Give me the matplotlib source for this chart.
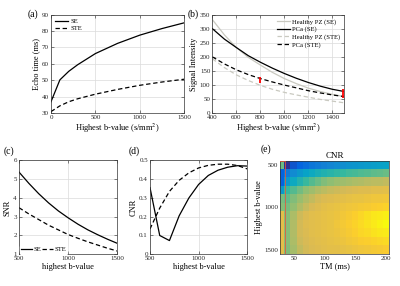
import numpy as np
import matplotlib
matplotlib.use("Agg")
import matplotlib.pyplot as plt
from matplotlib.colors import LinearSegmentedColormap
from matplotlib.patches import Rectangle

plt.rcParams["font.family"] = ["Liberation Serif", "DejaVu Serif"]
plt.rcParams["mathtext.fontset"] = "stix"

# (a) echo time vs highest b-value
b_a = [0, 100, 200, 300, 500, 750, 1000, 1250, 1500]
te_se = [37, 50.3, 55.5, 59.5, 66.3, 72.5, 77.5, 81.5, 85]
te_ste = [31, 34.5, 37, 38.8, 41.6, 44.5, 47, 49, 50.7]

# (b) signal intensity
b_b = [400, 500, 600, 700, 800, 900, 1000, 1100, 1200, 1300, 1400, 1500]
pz_se = [332, 278, 233, 198, 171, 145, 123, 105, 89, 77, 67, 59]
pca_se = [300, 263, 233, 204, 181, 160, 141, 124, 109, 96, 85, 77]
pz_ste = [193, 162, 136, 116, 99, 85, 74, 65, 57, 49, 43, 37]
pca_ste = [200, 175, 154, 137, 123, 111, 100, 90, 80, 72, 65, 59]
err_b = [800, 1490]
err_mid = [118, 69]
err_half = [12, 16]

# (c) SNR, (d) CNR
b_cd = [500, 600, 700, 800, 900, 1000, 1100, 1200, 1300, 1400, 1500]
snr_se = [5.38, 4.78, 4.23, 3.74, 3.31, 2.94, 2.60, 2.30, 2.04, 1.80, 1.58]
snr_ste = [3.48, 3.15, 2.85, 2.55, 2.30, 2.05, 1.85, 1.66, 1.49, 1.32, 1.17]
cnr_se = [0.355, 0.10, 0.073, 0.205, 0.30, 0.372, 0.42, 0.448, 0.464, 0.472, 0.47]
cnr_ste = [0.135, 0.246, 0.335, 0.394, 0.434, 0.46, 0.474, 0.48, 0.48, 0.473, 0.455]

# (e) CNR map, rows = b-value, cols = TM
tm = [30, 40, 50, 60, 70, 80, 90, 100, 110, 120, 130, 140, 150, 160, 170, 180, 190, 200]
b_e = [500, 600, 700, 800, 900, 1000, 1100, 1200, 1300, 1400, 1500]
cnr_map = [
    [0.58, 0.02, 0.10, 0.14, 0.17, 0.20, 0.22, 0.24, 0.26, 0.28, 0.29, 0.31, 0.32, 0.33, 0.34, 0.35, 0.36, 0.37],
    [0.13, 0.22, 0.28, 0.33, 0.37, 0.40, 0.43, 0.45, 0.47, 0.49, 0.50, 0.52, 0.53, 0.54, 0.55, 0.56, 0.57, 0.58],
    [0.13, 0.33, 0.40, 0.46, 0.51, 0.55, 0.58, 0.61, 0.63, 0.65, 0.66, 0.67, 0.68, 0.69, 0.70, 0.71, 0.71, 0.72],
    [0.33, 0.50, 0.55, 0.59, 0.63, 0.66, 0.69, 0.71, 0.73, 0.74, 0.75, 0.76, 0.77, 0.78, 0.78, 0.79, 0.79, 0.80],
    [0.60, 0.57, 0.61, 0.65, 0.69, 0.72, 0.75, 0.77, 0.78, 0.79, 0.80, 0.81, 0.82, 0.82, 0.83, 0.84, 0.84, 0.85],
    [0.62, 0.60, 0.64, 0.69, 0.73, 0.76, 0.78, 0.80, 0.81, 0.82, 0.83, 0.84, 0.85, 0.86, 0.87, 0.88, 0.89, 0.90],
    [0.80, 0.62, 0.68, 0.74, 0.77, 0.79, 0.80, 0.81, 0.82, 0.83, 0.85, 0.87, 0.89, 0.91, 0.93, 0.95, 0.96, 0.97],
    [0.80, 0.62, 0.69, 0.75, 0.78, 0.79, 0.80, 0.81, 0.82, 0.84, 0.86, 0.88, 0.90, 0.92, 0.94, 0.96, 0.98, 1.00],
    [0.80, 0.62, 0.69, 0.75, 0.77, 0.79, 0.80, 0.81, 0.82, 0.83, 0.85, 0.87, 0.89, 0.91, 0.92, 0.94, 0.95, 0.96],
    [0.80, 0.62, 0.68, 0.74, 0.76, 0.78, 0.79, 0.80, 0.81, 0.82, 0.83, 0.85, 0.86, 0.88, 0.89, 0.90, 0.91, 0.92],
    [0.80, 0.61, 0.67, 0.72, 0.75, 0.77, 0.78, 0.79, 0.80, 0.80, 0.81, 0.82, 0.83, 0.84, 0.85, 0.86, 0.87, 0.88],
]

# MATLAB parula, sampled
PARULA = [(0.2081, 0.1663, 0.5292), (0.0117, 0.3875, 0.8820), (0.0793, 0.5200, 0.8312),
          (0.0228, 0.6535, 0.7768), (0.2178, 0.7250, 0.6193), (0.5709, 0.7485, 0.4494),
          (0.8507, 0.7299, 0.3360), (0.9880, 0.8066, 0.1794), (0.9763, 0.9831, 0.0538)]
pos = [0, 8 / 63, 16 / 63, 24 / 63, 32 / 63, 40 / 63, 48 / 63, 56 / 63, 1]
parula = LinearSegmentedColormap.from_list("parula", list(zip(pos, PARULA)))

LIGHT = "#c9c9c0"
DASH = (0, (3.5, 2.2))
TICK = 5
LAB = 6


def style(ax, grid=True):
    ax.tick_params(direction="in", length=2, width=0.4, labelsize=TICK, pad=1.5,
                   top=True, right=True, colors="0.15")
    for s in ax.spines.values():
        s.set_linewidth(0.5)
        s.set_color("0.2")
    if grid:
        ax.grid(True, color="0.86", lw=0.5)
        ax.set_axisbelow(True)


fig = plt.figure(figsize=(4, 2.86), dpi=100)

# (a)
ax = fig.add_axes([0.1275, 0.604, 0.333, 0.345])
ax.plot(b_a, te_se, color="k", lw=0.9, label="SE")
ax.plot(b_a, te_ste, color="k", lw=0.9, ls=DASH, label="STE")
ax.set_xlim(0, 1500); ax.set_ylim(30, 90)
ax.set_xticks([0, 500, 1000, 1500]); ax.set_yticks(range(30, 91, 10))
ax.set_xlabel("Highest b-value (s/mm$^2$)", fontsize=LAB, labelpad=1)
ax.set_ylabel("Echo time (ms)", fontsize=LAB, labelpad=1)
ax.legend(loc="upper left", fontsize=4.8, frameon=False, handlelength=2,
          handletextpad=0.3, borderaxespad=0.2, labelspacing=0.2)
style(ax)
fig.text(0.07, 0.95, "(a)", fontsize=7, va="center")

# (b)
ax = fig.add_axes([0.531, 0.604, 0.33, 0.345])
ax.plot(b_b, pz_se, color=LIGHT, lw=0.9, label="Healthy PZ (SE)")
ax.plot(b_b, pca_se, color="k", lw=0.9, label="PCa (SE)")
ax.plot(b_b, pz_ste, color=LIGHT, lw=0.9, ls=DASH, label="Healthy PZ (STE)")
ax.plot(b_b, pca_ste, color="k", lw=0.9, ls=DASH, label="PCa (STE)")
ax.errorbar(err_b, err_mid, yerr=err_half, fmt="none", ecolor="red", elinewidth=1.3,
            capsize=0, zorder=5)
ax.set_xlim(400, 1500); ax.set_ylim(0, 350)
ax.set_xticks(range(400, 1401, 200)); ax.set_yticks(range(0, 351, 50))
ax.set_xlabel("Highest b-value (s/mm$^2$)", fontsize=LAB, labelpad=1)
ax.set_ylabel("Signal Intensity", fontsize=LAB, labelpad=1)
ax.legend(loc="upper right", fontsize=4.8, frameon=False, handlelength=2,
          handletextpad=0.3, borderaxespad=0.2, labelspacing=0.25)
style(ax)
fig.text(0.47, 0.95, "(b)", fontsize=7, va="center")

# (c)
ax = fig.add_axes([0.0475, 0.111, 0.246, 0.328])
ax.plot(b_cd, snr_se, color="k", lw=0.9, label="SE")
ax.plot(b_cd, snr_ste, color="k", lw=0.9, ls=DASH, label="STE")
ax.set_xlim(500, 1500); ax.set_ylim(1, 6)
ax.set_xticks([500, 1000, 1500]); ax.set_yticks(range(1, 7))
ax.set_xlabel("highest b-value", fontsize=LAB, labelpad=1)
ax.set_ylabel("SNR", fontsize=LAB, labelpad=1)
ax.legend(loc="lower left", fontsize=4.8, ncol=2, frameon=True, facecolor="white",
          edgecolor="white", framealpha=1, handlelength=1.6, handletextpad=0.2,
          columnspacing=0.2, borderaxespad=0.1, borderpad=0.2)
style(ax)
fig.text(0.008, 0.472, "(c)", fontsize=7, va="center")

# (d)
ax = fig.add_axes([0.375, 0.111, 0.243, 0.328])
ax.plot(b_cd, cnr_se, color="k", lw=0.9)
ax.plot(b_cd, cnr_ste, color="k", lw=0.9, ls=DASH)
ax.set_xlim(500, 1500); ax.set_ylim(0, 0.5)
ax.set_xticks([500, 1000, 1500]); ax.set_yticks([0, 0.1, 0.2, 0.3, 0.4, 0.5])
ax.set_yticklabels(["0", "0.1", "0.2", "0.3", "0.4", "0.5"])
ax.set_xlabel("highest b-value", fontsize=LAB, labelpad=1)
ax.set_ylabel("CNR", fontsize=LAB, labelpad=1)
style(ax)
fig.text(0.322, 0.472, "(d)", fontsize=7, va="center")

# (e)
ax = fig.add_axes([0.7008, 0.112, 0.272, 0.326])
dtm = tm[1] - tm[0]
db = b_e[1] - b_e[0]
ax.imshow(np.array(cnr_map), cmap=parula, vmin=0, vmax=1, aspect="auto",
          interpolation="nearest",
          extent=[tm[0] - dtm / 2, tm[-1] + dtm / 2, b_e[-1] + db / 2, b_e[0] - db / 2])
ax.add_patch(Rectangle((tm[0] - dtm / 2, b_e[0] - db / 2), dtm, len(b_e) * db,
                       fill=False, ec="#e8553a", lw=0.7, alpha=0.8, zorder=3))
ax.set_xlim(tm[0] - 2, tm[-1] + dtm / 2)
ax.set_xticks([50, 100, 150, 200]); ax.set_yticks([500, 1000, 1500])
ax.set_xlabel("TM (ms)", fontsize=LAB, labelpad=1)
ax.set_ylabel("Highest b-value", fontsize=LAB, labelpad=1)
ax.set_title("CNR", fontsize=6.5, pad=2)
style(ax, grid=False)
ax.tick_params(length=0)
fig.text(0.652, 0.48, "(e)", fontsize=7, va="center")

fig.savefig("out.png", dpi=100)
